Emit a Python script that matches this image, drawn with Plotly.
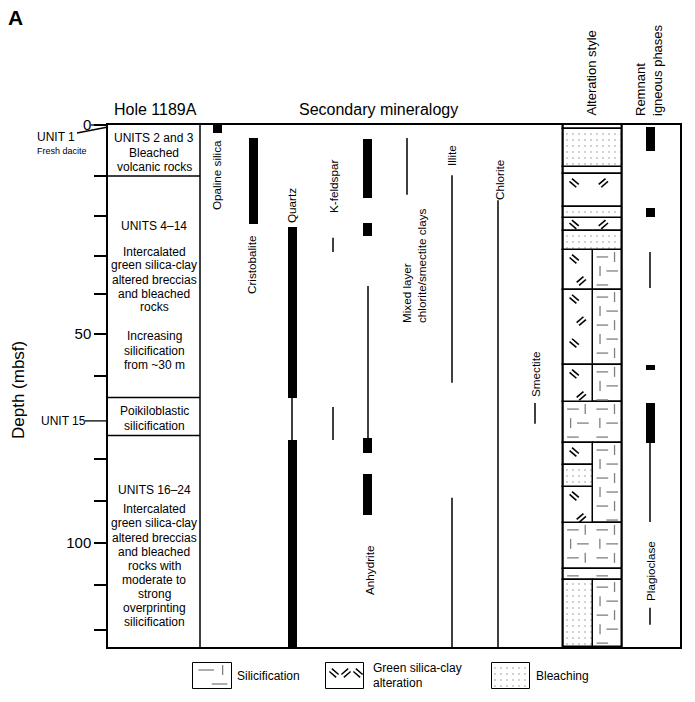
import plotly.graph_objects as go

# ---------------- data (depths in mbsf) ----------------
total_depth = 124.9
depth_ticks = [0, 12.2, 21.8, 31.3, 40.4, 50, 60, 80, 90, 100, 110, 120.8]
depth_tick_labels = ["0", "", "", "", "", "50", "", "", "", "100", "", ""]
unit15_depth = 70.8
unit_boundaries = [12.2, 65.2, 74.3]

# secondary minerals: thick = abundant, thin = present
opaline_thick = [(0.0, 1.9)]
cristobalite_thick = [(3.1, 23.7)]
quartz_thick = [(24.4, 65.3), (75.4, 124.9)]
quartz_thin = [(65.3, 75.4)]
kfeldspar_thin = [(27.0, 30.4), (67.5, 75.4)]
anhydrite_thick = [(3.3, 17.5), (23.4, 26.6), (75.0, 78.5), (83.5, 93.3)]
anhydrite_thin = [(38.5, 75.0)]
mixed_layer_thin = [(3.1, 16.7)]
illite_thin = [(12.0, 61.7), (89.2, 124.9)]
chlorite_thin = [(18.0, 124.9)]
smectite_thin = [(66.5, 71.5)]

# remnant igneous phases
igneous_thick = [(0.5, 6.2), (19.9, 22.0), (57.4, 58.6), (66.5, 76.1)]
plagioclase_thin = [(30.4, 39.0), (76.1, 95.0), (115.5, 119.6)]

# alteration style intervals
alt_top = [0.0, 1.0, 10.0, 11.7, 19.6, 22.2, 25.4, 29.9, 29.9, 39.5, 39.5, 57.4, 57.4,
           66.3, 76.1, 81.3, 86.6, 76.1, 95.2, 106.2, 108.9, 108.9]
alt_bottom = [1.0, 10.0, 11.7, 19.6, 22.2, 25.4, 29.9, 39.5, 39.5, 57.4, 57.4, 66.3, 66.3,
              76.1, 81.3, 86.6, 95.2, 95.2, 106.2, 108.9, 124.9, 124.9]
alt_part = ["full", "full", "full", "full", "full", "full", "full", "left", "right", "left", "right",
            "left", "right", "full", "left", "left", "left", "right", "full", "full", "left", "right"]
alt_style = ["none", "bleach", "none", "green", "bleach", "green", "bleach", "green", "silic",
             "green", "silic", "green", "silic", "silic", "green", "bleach", "green", "silic",
             "silic", "silic", "bleach", "silic"]

unit_lines = [
    ("UNITS 2 and 3", 138), ("Bleached", 153), ("volcanic rocks", 167),
    ("UNITS 4–14", 226), ("Intercalated", 252), ("green silica-clay", 265),
    ("altered breccias", 280), ("and bleached", 294), ("rocks", 307),
    ("Increasing", 336), ("silicification", 351), ("from ~30 m", 365),
    ("Poikiloblastic", 411), ("silicification", 426),
    ("UNITS 16–24", 490), ("Intercalated", 509), ("green silica-clay", 523),
    ("altered breccias", 538), ("and bleached", 552), ("rocks with", 566),
    ("moderate to", 580), ("strong", 594), ("overprinting", 608), ("silicification", 622),
]

# ---------------- layout geometry (pixels) ----------------
W, H = 695, 702
L, R, T, B = 108, 15, 125, 5
PW = W - L - R
PH = H - T - B
Y_BOTTOM = 647
PXM = (Y_BOTTOM - T) / total_depth
FONT = "Liberation Sans, Arial, sans-serif"

X_UNIT_R = 200
A0, AM, A1 = 563, 592.5, 621.5
X_REM = 622
COL = {"opaline": 217, "cristobalite": 253, "quartz": 292, "kfeldspar": 333,
       "anhydrite": 367, "mixed": 407, "illite": 452, "chlorite": 498,
       "smectite": 535, "igneous": 650}
PART = {"full": (A0, A1), "left": (A0, AM), "right": (AM, A1)}


def px2d(y):
    return (y - T) / PXM


def d2px(d):
    return T + d * PXM


def px(x, y):
    return (x - L) / PW, (H - B - y) / PH


fig = go.Figure()


def thick(intervals, xc, width=9):
    fig.add_trace(go.Bar(
        x=[xc] * len(intervals), base=[a for a, b in intervals],
        y=[b - a for a, b in intervals], width=[width] * len(intervals),
        marker=dict(color="black", line=dict(width=0)),
        xaxis="x", yaxis="y", showlegend=False, hoverinfo="skip"))


def thin(intervals, xc, width=1.5):
    xs, ys = [], []
    for a, b in intervals:
        xs += [xc, xc, None]
        ys += [a, b, None]
    fig.add_trace(go.Scatter(x=xs, y=ys, mode="lines",
                             line=dict(color="black", width=width),
                             showlegend=False, hoverinfo="skip"))


# column separators and unit boundaries
fig.add_trace(go.Scatter(
    x=[X_UNIT_R, X_UNIT_R, None, A0, A0, None, X_REM, X_REM],
    y=[0, total_depth, None, 0, total_depth, None, 0, total_depth],
    mode="lines", line=dict(color="black", width=1.5), showlegend=False, hoverinfo="skip"))
ux, uy = [], []
for d in unit_boundaries:
    ux += [L, X_UNIT_R, None]
    uy += [d, d, None]
fig.add_trace(go.Scatter(x=ux, y=uy, mode="lines", line=dict(color="black", width=1.5),
                         showlegend=False, hoverinfo="skip"))

# minerals
thick(opaline_thick, COL["opaline"])
thick(cristobalite_thick, COL["cristobalite"])
thick(quartz_thick, COL["quartz"])
thin(quartz_thin, COL["quartz"])
thin(kfeldspar_thin, COL["kfeldspar"])
thick(anhydrite_thick, COL["anhydrite"])
thin(anhydrite_thin, COL["anhydrite"] + 1)
thin(mixed_layer_thin, COL["mixed"])
thin(illite_thin, COL["illite"])
thin(chlorite_thin, COL["chlorite"])
thin(smectite_thin, COL["smectite"])
thick(igneous_thick, COL["igneous"])
thin(plagioclase_thin, COL["igneous"])


# ---------- alteration style boxes ----------
def add_boxes(style, pattern=None):
    xs, bases, lens, widths = [], [], [], []
    for t, b, p, s in zip(alt_top, alt_bottom, alt_part, alt_style):
        if s != style:
            continue
        x0, x1 = PART[p]
        xs.append((x0 + x1) / 2)
        widths.append(x1 - x0)
        bases.append(t)
        lens.append(b - t)
    marker = dict(color="white", line=dict(color="black", width=1.5))
    if pattern:
        marker["pattern"] = pattern
    fig.add_trace(go.Bar(x=xs, base=bases, y=lens, width=widths, marker=marker,
                         xaxis="x", yaxis="y", showlegend=False, hoverinfo="skip"))


STIPPLE = dict(shape=".", fgcolor="#777777", bgcolor="white", size=6, solidity=0.07)
add_boxes("none")
add_boxes("silic")
add_boxes("green")
add_boxes("bleach", STIPPLE)


def silic_pattern(x0, x1, y0, y1):
    ncol = max(1, round((x1 - x0) / 29))
    tw = (x1 - x0) / ncol
    segs = [((0.14, 7), (0.54, 7)), ((0.76, 2), (0.76, 12)),
            ((0.26, 16), (0.26, 26)), ((0.48, 21), (0.88, 21))]
    xs, ys = [], []
    ty = y0
    while ty < y1:
        for c in range(ncol):
            for (fx0, py0), (fx1, py1) in segs:
                a, b = ty + py0, ty + py1
                if a < y0 + 1.5 or b > y1 - 1.5:
                    continue
                xs += [x0 + (c + fx0) * tw, x0 + (c + fx1) * tw, None]
                ys += [a, b, None]
        ty += 28
    return xs, ys


def mark(cx, cy, sgn):
    dx, dy = 3.4, 2.9 * sgn
    n = (dx * dx + dy * dy) ** 0.5
    ox, oy = -dy / n * 1.9, dx / n * 1.9
    xs, ys = [], []
    for k in (-1, 1):
        mx, my = cx + k * ox, cy + k * oy
        xs += [mx - dx, mx + dx, None]
        ys += [my - dy, my + dy, None]
    return xs, ys


def green_pattern(x0, x1, y0, y1):
    ncol = max(1, round((x1 - x0) / 29))
    cw = (x1 - x0) / ncol
    xs, ys = [], []
    ry = y0 + min(9, (y1 - y0) / 2)
    r = 0
    while ry <= y1 - 4:
        for c in range(ncol):
            cx = x0 + (c + (0.38 if r % 2 == 0 else 0.62)) * cw
            mx, my = mark(cx, ry, 1 if (r + c) % 2 == 0 else -1)
            xs += mx
            ys += my
        ry += 22
        r += 1
    return xs, ys


sx, sy, gx, gy = [], [], [], []
for t, b, p, s in zip(alt_top, alt_bottom, alt_part, alt_style):
    x0, x1 = PART[p]
    if s == "silic":
        a, c = silic_pattern(x0, x1, d2px(t), d2px(b))
        sx += a
        sy += c
    elif s == "green":
        a, c = green_pattern(x0, x1, d2px(t), d2px(b))
        gx += a
        gy += c
fig.add_trace(go.Scatter(x=sx, y=[None if v is None else px2d(v) for v in sy], mode="lines",
                         line=dict(color="#808080", width=1.3), showlegend=False, hoverinfo="skip"))
fig.add_trace(go.Scatter(x=gx, y=[None if v is None else px2d(v) for v in gy], mode="lines",
                         line=dict(color="black", width=1.6), showlegend=False, hoverinfo="skip"))

# ---------- legend (second y axis in pixel units) ----------
LEG_Y0, LEG_Y1 = 663, 689
leg_boxes = [(193, 232, "silic"), (326, 364, "green"), (492, 530, "bleach")]
for x0, x1, s in leg_boxes:
    marker = dict(color="white", line=dict(color="black", width=1))
    if s == "bleach":
        marker["pattern"] = STIPPLE
    fig.add_trace(go.Bar(x=[(x0 + x1) / 2], base=[LEG_Y0], y=[LEG_Y1 - LEG_Y0], width=[x1 - x0],
                         marker=marker, xaxis="x", yaxis="y2", showlegend=False, hoverinfo="skip"))
lsx, lsy = silic_pattern(193, 232, LEG_Y0, LEG_Y1)
fig.add_trace(go.Scatter(x=lsx, y=lsy, mode="lines", line=dict(color="#808080", width=1.3),
                         xaxis="x", yaxis="y2", showlegend=False, hoverinfo="skip"))
lgx, lgy = [], []
for cx, sg in [(334, 1), (346, -1), (358, 1)]:
    a, c = mark(cx, 673, sg)
    lgx += a
    lgy += c
fig.add_trace(go.Scatter(x=lgx, y=lgy, mode="lines", line=dict(color="black", width=1.4),
                         xaxis="x", yaxis="y2", showlegend=False, hoverinfo="skip"))

# ---------- text ----------
anns = []


def ann(text, x, y, size=12, angle=0, xanchor="center", yanchor="middle", align="center"):
    ax, ay = px(x, y)
    anns.append(dict(text=text, x=ax, y=ay, xref="paper", yref="paper", showarrow=False,
                     font=dict(family=FONT, size=size, color="black"), textangle=angle,
                     xanchor=xanchor, yanchor=yanchor, align=align, borderpad=0))


ann("<b>A</b>", 15, 18, size=21)
ann("Hole 1189A", 155, 110, size=16)
ann("Secondary mineralogy", 378, 110, size=16)
ann("Alteration style", 591, 117, size=13, angle=-90, yanchor="bottom")
ann("Remnant<br>igneous phases", 649, 117, size=13, angle=-90, yanchor="bottom", align="left")
ann("Depth (mbsf)", 18, 390, size=17, angle=-90)
ann("UNIT 1", 56, 137, size=12)
ann("Fresh dacite", 62, 151, size=9)
ann("UNIT 15", 63, 421, size=12)
for txt, y in unit_lines:
    ann(txt, 154, y, size=12)

ann("Opaline silica", 216, 175, size=11.7, angle=-90)
ann("Cristobalite", 251, 265, size=11.7, angle=-90)
ann("Quartz", 292, 206, size=11.7, angle=-90)
ann("K-feldspar", 333, 187, size=11.7, angle=-90)
ann("Mixed layer<br>chlorite/smectite clays", 414, 324, size=11.7, angle=-90,
    yanchor="bottom", align="left")
ann("Illite", 452, 156, size=11.7, angle=-90)
ann("Chlorite", 499, 180, size=11.7, angle=-90)
ann("Smectite", 535, 375, size=11.7, angle=-90)
ann("Anhydrite", 369, 571, size=11.7, angle=-90)
ann("Plagioclase", 650, 571, size=11.7, angle=-90)

ann("Silicification", 236, 676, size=12, xanchor="left")
ann("Green silica-clay", 372, 668, size=12, xanchor="left")
ann("alteration", 372, 683, size=12, xanchor="left")
ann("Bleaching", 535, 676, size=12, xanchor="left")

# ---------- leader lines outside the plot area ----------
shapes = []


def seg(x0, y0, x1, y1, w=1.3):
    p0 = px(x0, y0)
    p1 = px(x1, y1)
    shapes.append(dict(type="line", xref="paper", yref="paper", x0=p0[0], y0=p0[1],
                       x1=p1[0], y1=p1[1], line=dict(color="black", width=w)))


seg(91, T, L, T)
seg(77, 133, L, 127)
seg(85, d2px(unit15_depth), L, d2px(unit15_depth))

fig.update_layout(
    width=W, height=H, margin=dict(l=L, r=R, t=T, b=B),
    paper_bgcolor="white", plot_bgcolor="white",
    barmode="overlay", bargap=0, hovermode=False, showlegend=False,
    font=dict(family=FONT, color="black"),
    xaxis=dict(range=[L, W - R], domain=[0, 1], anchor="y", showgrid=False, zeroline=False,
               showticklabels=False, ticks="", showline=True, mirror=True,
               linecolor="black", linewidth=1.5),
    yaxis=dict(range=[total_depth, 0], domain=[(H - B - Y_BOTTOM) / PH, 1], anchor="x",
               showgrid=False, zeroline=False, showline=True, mirror=True,
               linecolor="black", linewidth=1.5, ticks="outside", ticklen=12, tickwidth=1.5,
               tickcolor="black", tickvals=depth_ticks, ticktext=depth_tick_labels,
               tickfont=dict(size=15, family=FONT, color="black")),
    yaxis2=dict(range=[H - B, Y_BOTTOM], domain=[0, (H - B - Y_BOTTOM) / PH], anchor="x",
                visible=False, showgrid=False, zeroline=False),
    annotations=anns, shapes=shapes,
)

fig.write_html("out.html", config={"displayModeBar": False},
               post_script="document.body.style.margin='0';")
